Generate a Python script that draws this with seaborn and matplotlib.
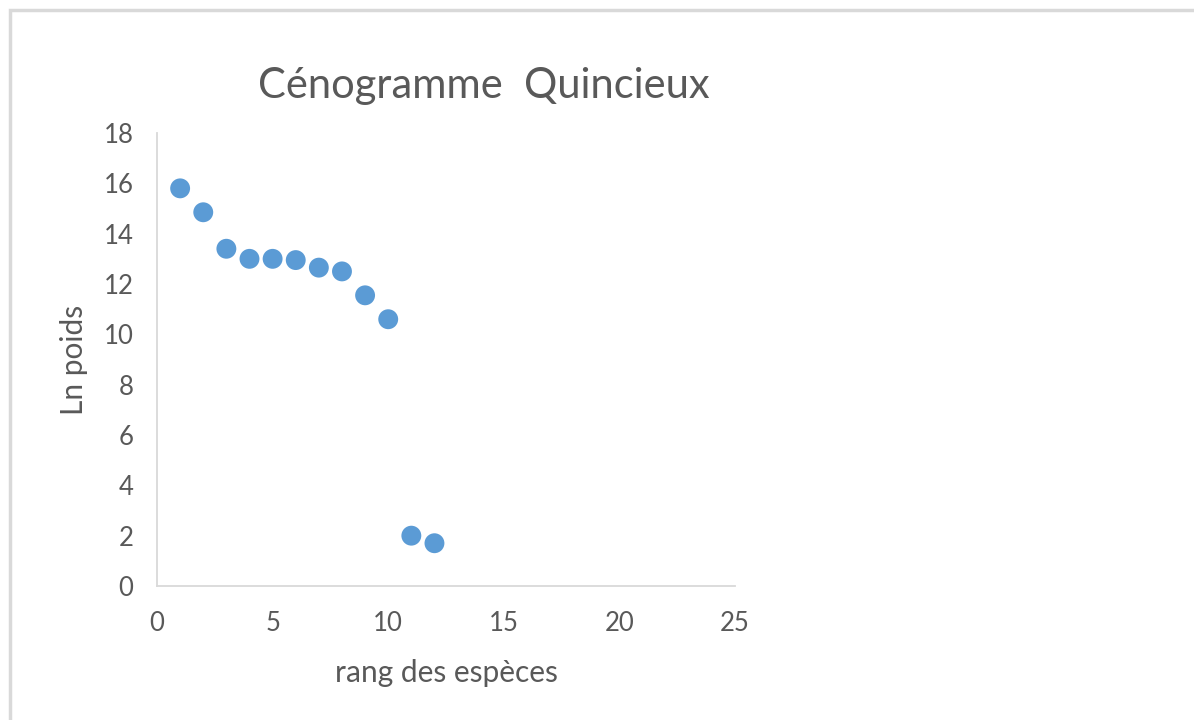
import matplotlib
matplotlib.use("Agg")
import matplotlib.pyplot as plt
import seaborn as sns
import pandas as pd
from matplotlib.patches import Rectangle

# ranks and ln(weight)
rang = [1, 2, 3, 4, 5, 6, 7, 8, 9, 10, 11, 12]
ln_poids = [15.8, 14.85, 13.4, 13.0, 13.0, 12.95, 12.65, 12.5, 11.55, 10.6, 2.0, 1.7]
x_ticks = [0, 5, 10, 15, 20, 25]
y_ticks = [0, 2, 4, 6, 8, 10, 12, 14, 16, 18]

sns.set_style("white")
plt.rcParams['font.family'] = ['Lato', 'DejaVu Sans']
grey = '#595959'

df = pd.DataFrame({'rang': rang, 'ln_poids': ln_poids})

fig = plt.figure(figsize=(11.94, 7.2), dpi=100)
ax = fig.add_axes([0.1315, 0.1861, 0.4841, 0.6292])

sns.scatterplot(data=df, x='rang', y='ln_poids', ax=ax, s=205,
                color='#5B9BD5', edgecolor='none', linewidth=0)

ax.set_xlim(0, 25)
ax.set_ylim(0, 18)
ax.set_xticks(x_ticks)
ax.set_yticks(y_ticks)
ax.tick_params(axis='both', length=0, labelsize=18.5, colors=grey)
ax.tick_params(axis='x', pad=18)
ax.tick_params(axis='y', pad=17)

for side in ['top', 'right']:
    ax.spines[side].set_visible(False)
for side in ['left', 'bottom']:
    ax.spines[side].set_color('#D9D9D9')
    ax.spines[side].set_linewidth(1.3)

ax.set_xlabel('rang des espèces', fontsize=21.5, color=grey)
ax.set_ylabel('Ln poids', fontsize=21.5, color=grey)
ax.xaxis.set_label_coords(0.5, -0.162)
ax.yaxis.set_label_coords(-0.12, 0.5)

fig.text(484 / 1194, 1 - 86 / 720, 'Cénogramme  Quincieux', fontsize=30,
         color=grey, ha='center', va='center')

# chart frame (cropped at right and bottom)
fig.patches.append(Rectangle((10 / 1194, -0.1), 1.2, 1 - 10 / 720 + 0.1,
                             transform=fig.transFigure, fill=False,
                             edgecolor='#D9D9D9', linewidth=2.5))

fig.savefig('out.png', dpi=100)
